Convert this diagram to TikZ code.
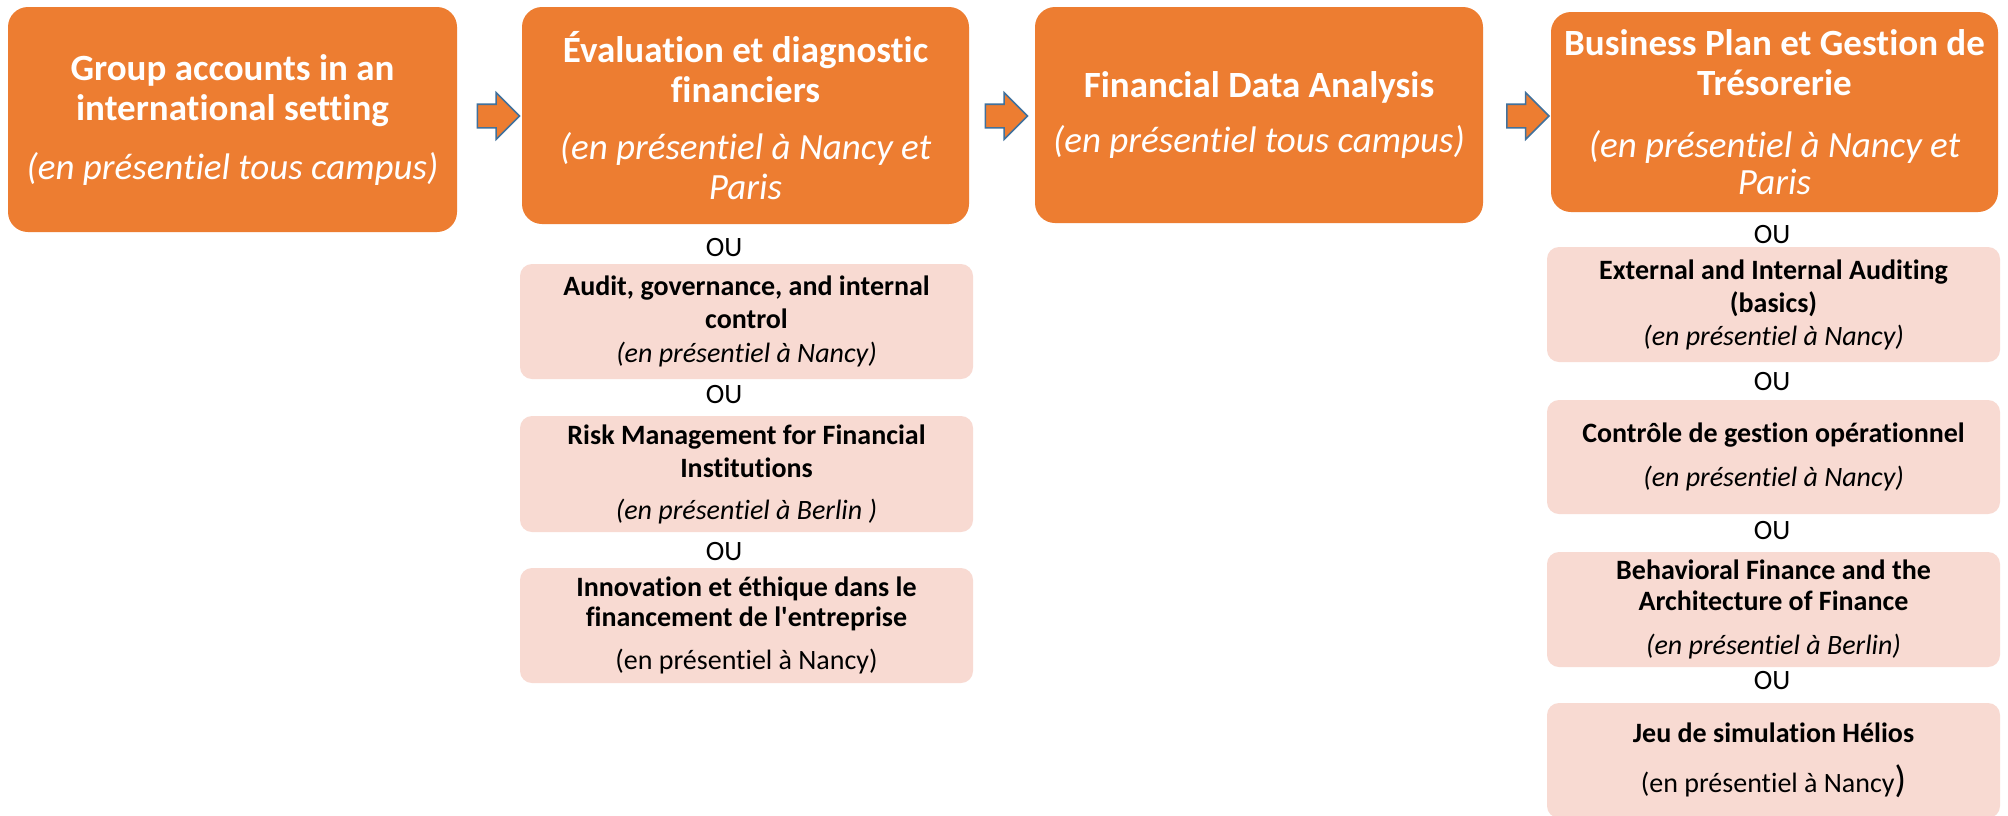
\documentclass[tikz,border=0pt]{standalone}
\usepackage{fontspec}
\setmainfont{Carlito}[Ligatures={NoCommon}]
\usetikzlibrary{shapes.arrows}
\definecolor{orangebox}{HTML}{ED7D31}
\definecolor{pinkbox}{HTML}{F8DAD2}
\definecolor{arrowblue}{HTML}{41719C}
\tikzset{
  mainbox/.style={fill=orangebox, rounded corners=20pt, text=white, align=center, inner sep=0pt,
    font=\fontsize{37}{40}\selectfont},
  altbox/.style={fill=pinkbox, rounded corners=12pt, text=black, align=center, inner sep=0pt,
    minimum width=453pt, font=\fontsize{28}{33}\selectfont},
  oulabel/.style={font=\fontsize{28}{30}\selectfont, inner sep=0pt},
  blockarrow/.style={single arrow, draw=arrowblue, fill=orangebox, line width=1.6pt,
    minimum width=0pt, minimum height=42pt, single arrow head extend=11.5pt,
    single arrow head indent=0pt, inner sep=0pt}
}
\begin{document}
\begin{tikzpicture}[x=1pt,y=-1pt]
\useasboundingbox (0,0) rectangle (2008,815);
\clip (0,0) rectangle (2008,815);
\fill[white] (0,0) rectangle (2008,815);

% main boxes
\node[mainbox, minimum width=449pt, minimum height=225pt] (b1) at (232.5,119.5)
  {\textbf{Group accounts in an}\\\textbf{international setting}\\[19pt]\textit{(en présentiel tous campus)}};
\node[mainbox, minimum width=447pt, minimum height=217pt] (b2) at (745.5,115.5)
  {\textbf{Évaluation et diagnostic}\\\textbf{financiers}\\[17pt]\textit{(en présentiel à Nancy et}\\\textit{Paris}};
\node[mainbox, minimum width=448pt, minimum height=216pt] (b3) at (1259,115)
  {\textbf{Financial Data Analysis}\\[15pt]\textit{(en présentiel tous campus)}};
\node[mainbox, minimum width=447pt, minimum height=200pt] (b4) at (1774.5,112)
  {\textbf{Business Plan et Gestion de}\\\textbf{Trésorerie}\\[22pt]\textit{(en présentiel à Nancy et}\\[-3pt]\textit{Paris}};

% block arrows
\node[blockarrow] (a1) at (492.5,116) {\rule{0pt}{22pt}};
\node[blockarrow] (a2) at (1000.5,116) {\rule{0pt}{22pt}};
\node[blockarrow] (a3) at (1522,116) {\rule{0pt}{22pt}};

% column 2 alternatives
\node[oulabel] (o21) at (724,248) {OU};
\node[altbox, minimum height=115pt] (s21) at (746.5,321.5)
  {\textbf{Audit, governance, and internal}\\\textbf{control}\\[1pt]\textit{(en présentiel à Nancy)}};
\node[oulabel] (o22) at (724,395) {OU};
\node[altbox, minimum height=116pt] (s22) at (746.5,474)
  {\textbf{Risk Management for Financial}\\\textbf{Institutions}\\[9pt]\textit{(en présentiel à Berlin )}};
\node[oulabel] (o23) at (724,552) {OU};
\node[altbox, minimum height=115pt] (s23) at (746.5,625.5)
  {\textbf{Innovation et éthique dans le}\\[-3pt]\textbf{financement de l\textquotesingle entreprise}\\[10pt](en présentiel à Nancy)};

% column 4 alternatives
\node[oulabel] (o41) at (1772,235) {OU};
\node[altbox, minimum height=115pt] (s41) at (1773.5,304.5)
  {\textbf{External and Internal Auditing}\\\textbf{(basics)}\\\textit{(en présentiel à Nancy)}};
\node[oulabel] (o42) at (1772,382) {OU};
\node[altbox, minimum height=114pt] (s42) at (1773.5,457)
  {\textbf{Contrôle de gestion opérationnel}\\[11pt]\textit{(en présentiel à Nancy)}};
\node[oulabel] (o43) at (1772,531) {OU};
\node[altbox, minimum height=115pt] (s43) at (1773.5,609.5)
  {\textbf{Behavioral Finance and the}\\[-2pt]\textbf{Architecture of Finance}\\[11pt]\textit{(en présentiel à Berlin)}};
\node[oulabel] (o44) at (1772,681) {OU};
\node[altbox, minimum height=115pt] (s44) at (1773.5,760.5)
  {\textbf{Jeu de simulation Hélios}\\[17pt](en présentiel à Nancy{\fontsize{38}{38}\selectfont)}};
\end{tikzpicture}
\end{document}
